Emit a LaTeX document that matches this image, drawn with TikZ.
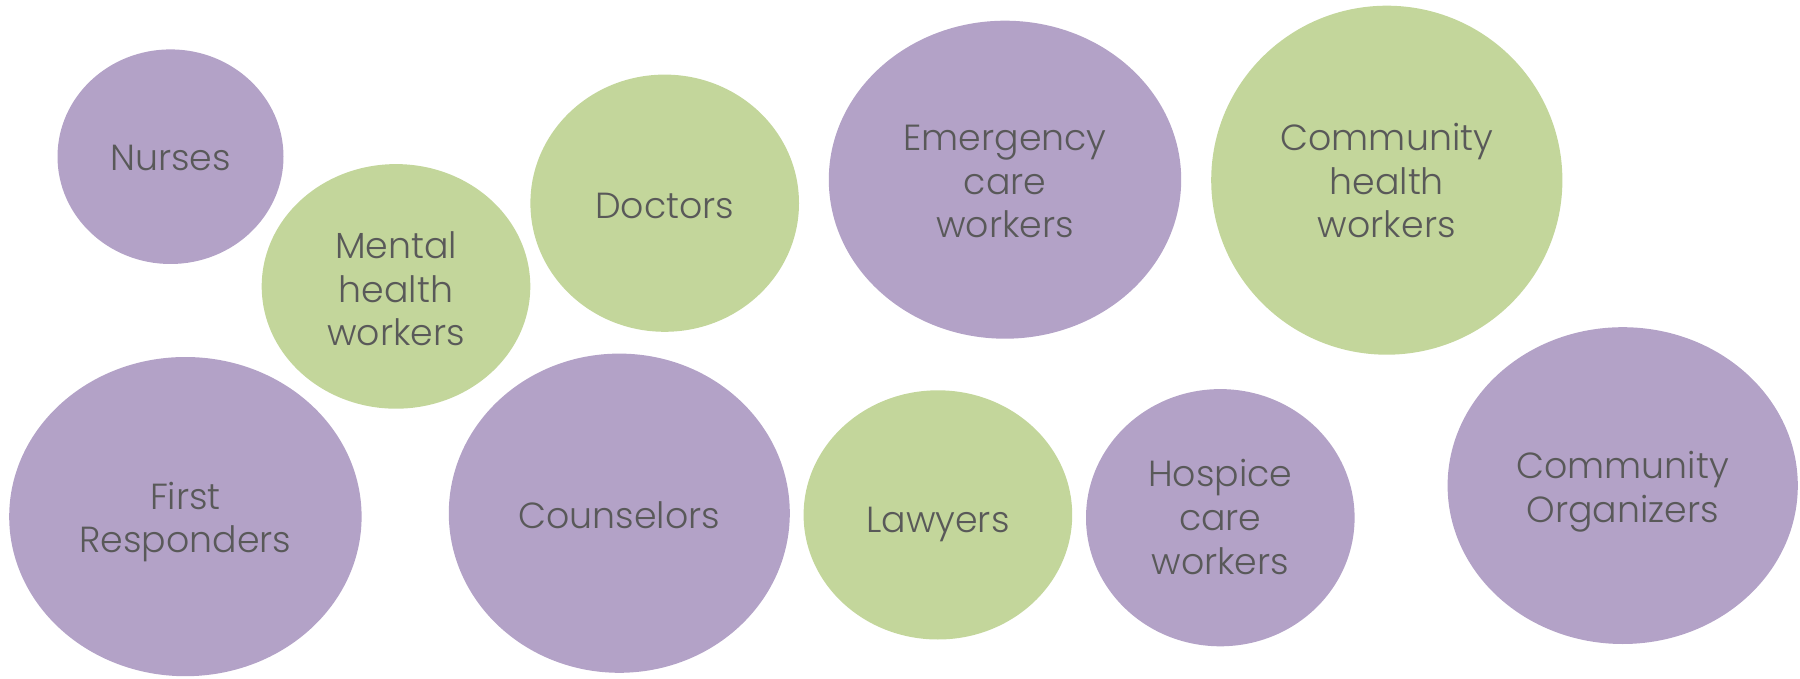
\documentclass[tikz,border=0pt]{standalone}
\usepackage{fontspec}
\setmainfont{Poppins}[UprightFont=* Light]
\definecolor{lav}{HTML}{B3A2C7}
\definecolor{oli}{HTML}{C3D69B}
\definecolor{txt}{HTML}{595959}
\begin{document}
\begin{tikzpicture}[x=1pt,y=-1pt,
  bub/.style={text=txt,align=center,font=\fontsize{36.3}{43.6}\selectfont},
]
\useasboundingbox (0,0) rectangle (1800,679);
\fill[lav] (170.5,156.7) ellipse [x radius=113, y radius=107.3];
\fill[oli] (396,286.4) ellipse [x radius=134.3, y radius=122.3];
\fill[oli] (664.7,203.2) ellipse [x radius=134.3, y radius=128.6];
\fill[lav] (1005,179.7) ellipse [x radius=176.2, y radius=159];
\fill[oli] (1386.8,180.2) ellipse [x radius=175.6, y radius=174.5];
\fill[lav] (185.4,516.6) ellipse [x radius=176.2, y radius=159.6];
\fill[lav] (619.3,513.2) ellipse [x radius=170.5, y radius=159.6];
\fill[oli] (937.9,514.9) ellipse [x radius=134.3, y radius=124.6];
\fill[lav] (1220.3,517.7) ellipse [x radius=134.3, y radius=128.6];
\fill[lav] (1622.7,485.6) ellipse [x radius=175.1, y radius=158.4];
\node[bub] (n1) at (170.5,158) {Nurses};
\node[bub] (n2) at (396,289) {Mental\\health\\workers};
\node[bub] (n3) at (664.7,206) {Doctors};
\node[bub] (n4) at (1005,181.5) {Emergency\\care\\workers};
\node[bub] (n5) at (1386.8,180.5) {Community\\health\\workers};
\node[bub] (n6) at (185.4,522) {First\\Responders};
\node[bub] (n7) at (619.3,515) {Counselors};
\node[bub] (n8) at (937.9,524) {Lawyers};
\node[bub] (n9) at (1220.3,517) {Hospice\\care\\workers};
\node[bub] (n10) at (1622.7,491.5) {Community\\Organizers};
\end{tikzpicture}
\end{document}
